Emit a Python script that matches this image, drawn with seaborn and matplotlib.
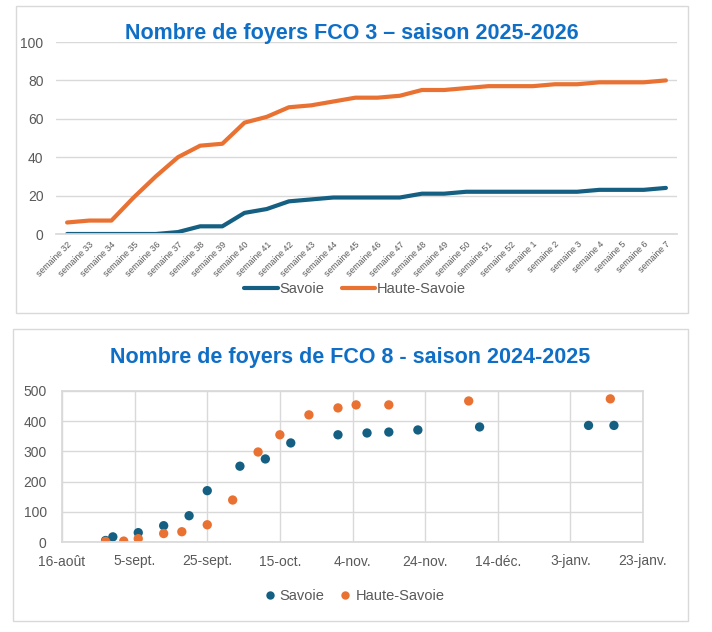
import matplotlib
matplotlib.use("Agg")
import matplotlib.pyplot as plt
from matplotlib.patches import Rectangle
import pandas as pd
import seaborn as sns

# --- données FCO 3 (2025-2026), par semaine ---
semaines = [f"semaine {s}" for s in list(range(32, 53)) + list(range(1, 8))]
fco3_savoie = [0, 0, 0, 0, 0, 1, 4, 4, 11, 13, 17, 18, 19, 19,
               19, 19, 21, 21, 22, 22, 22, 22, 22, 22, 23, 23, 23, 24]
fco3_haute_savoie = [6, 7, 7, 19, 30, 40, 46, 47, 58, 61, 66, 67, 69, 71,
                     71, 72, 75, 75, 76, 77, 77, 77, 78, 78, 79, 79, 79, 80]

# --- données FCO 8 (2024-2025), par date ---
dates_savoie = ["2024-08-28", "2024-08-30", "2024-09-06", "2024-09-13", "2024-09-20",
                "2024-09-25", "2024-10-04", "2024-10-11", "2024-10-18", "2024-10-31",
                "2024-11-08", "2024-11-14", "2024-11-22", "2024-12-09", "2025-01-08",
                "2025-01-15"]
fco8_savoie = [5, 17, 31, 54, 87, 170, 251, 275, 328, 355, 361, 364, 371, 381, 386, 386]
dates_haute_savoie = ["2024-08-28", "2024-09-02", "2024-09-06", "2024-09-13", "2024-09-18",
                      "2024-09-25", "2024-10-02", "2024-10-09", "2024-10-15", "2024-10-23",
                      "2024-10-31", "2024-11-05", "2024-11-14", "2024-12-06", "2025-01-14"]
fco8_haute_savoie = [2, 3, 11, 28, 34, 57, 139, 298, 355, 421, 444, 454, 454, 467, 474]

date_ticks = pd.date_range("2024-08-16", periods=9, freq="20D")
date_labels = ["16-août", "5-sept.", "25-sept.", "15-oct.", "4-nov.",
               "24-nov.", "14-déc.", "3-janv.", "23-janv."]

BLEU = "#156082"
ORANGE = "#E97132"
TITRE = "#0F6FC6"
GRIS = "#595959"
GRILLE = "#D9D9D9"

sns.set_theme(style="white")
plt.rcParams['font.family'] = ['Liberation Sans', 'DejaVu Sans']

W, H = 712, 632
fig = plt.figure(figsize=(W / 100, H / 100), dpi=100)


def fx(px):
    return px / W


def fy(py):
    return 1 - py / H


# cadres des deux graphiques
fig.add_artist(Rectangle((fx(16), fy(313)), fx(672), 307 / H, transform=fig.transFigure,
                         fill=False, edgecolor=GRILLE, lw=1))
fig.add_artist(Rectangle((fx(13), fy(621)), fx(675), 292 / H, transform=fig.transFigure,
                         fill=False, edgecolor=GRILLE, lw=1))

# ---------- graphique 1 : lignes ----------
df3 = pd.DataFrame({
    "semaine": semaines * 2,
    "foyers": fco3_savoie + fco3_haute_savoie,
    "dept": ["Savoie"] * len(semaines) + ["Haute-Savoie"] * len(semaines),
})
ax1 = fig.add_axes([fx(56), fy(234), fx(621), 192 / H])
sns.lineplot(data=df3, x="semaine", y="foyers", hue="dept", sort=False,
             palette={"Savoie": BLEU, "Haute-Savoie": ORANGE},
             linewidth=3, ax=ax1)
ax1.set_xlim(-0.5, len(semaines) - 0.5)
ax1.set_ylim(0, 100)
ax1.set_yticks([0, 20, 40, 60, 80, 100])
ax1.grid(axis="y", color=GRILLE, lw=1)
ax1.set_axisbelow(True)
for s in ax1.spines.values():
    s.set_visible(False)
ax1.spines["bottom"].set_visible(True)
ax1.spines["bottom"].set_color(GRILLE)
ax1.tick_params(axis="y", labelsize=10, labelcolor=GRIS, length=0, pad=9)
ax1.tick_params(axis="x", labelsize=6.3, labelcolor=GRIS, length=0, pad=4)
plt.setp(ax1.get_xticklabels(), rotation=45, ha="right", rotation_mode="anchor")
ax1.set_xlabel("")
ax1.set_ylabel("")
ax1.legend(loc="center", bbox_to_anchor=(fx(355), fy(289)), bbox_transform=fig.transFigure,
           ncol=2, frameon=False, fontsize=10.5, handlelength=2.3, handletextpad=0.1,
           columnspacing=1.2, labelcolor=GRIS)
fig.text(fx(352), fy(33), "Nombre de foyers FCO 3 – saison 2025-2026", ha="center",
         va="center", fontsize=15.5, fontweight="bold", color=TITRE)

# ---------- graphique 2 : nuage de points ----------
df8 = pd.DataFrame({
    "date": pd.to_datetime(dates_savoie + dates_haute_savoie),
    "foyers": fco8_savoie + fco8_haute_savoie,
    "dept": ["Savoie"] * len(dates_savoie) + ["Haute-Savoie"] * len(dates_haute_savoie),
})
ax2 = fig.add_axes([fx(62), fy(542), fx(581), 151 / H])
sns.scatterplot(data=df8, x="date", y="foyers", hue="dept",
                palette={"Savoie": BLEU, "Haute-Savoie": ORANGE},
                s=45, edgecolor="none", ax=ax2)
ax2.set_xlim(date_ticks[0], date_ticks[-1])
ax2.set_ylim(0, 500)
ax2.set_yticks([0, 100, 200, 300, 400, 500])
ax2.set_xticks(date_ticks)
ax2.set_xticklabels(date_labels)
ax2.grid(True, color=GRILLE, lw=1)
ax2.set_axisbelow(True)
for s in ax2.spines.values():
    s.set_color(GRILLE)
ax2.tick_params(axis="both", labelsize=10, labelcolor=GRIS, length=0)
ax2.tick_params(axis="y", pad=11)
ax2.tick_params(axis="x", pad=9)
ax2.set_xlabel("")
ax2.set_ylabel("")
ax2.legend(loc="center", bbox_to_anchor=(fx(354), fy(596)), bbox_transform=fig.transFigure,
           ncol=2, frameon=False, fontsize=10.5, handlelength=0.8, handletextpad=0.3,
           columnspacing=1.0, labelcolor=GRIS, markerscale=0.9)
fig.text(fx(350), fy(357), "Nombre de foyers de FCO 8 - saison 2024-2025", ha="center",
         va="center", fontsize=15.5, fontweight="bold", color=TITRE)

fig.savefig("out.png", dpi=100)
